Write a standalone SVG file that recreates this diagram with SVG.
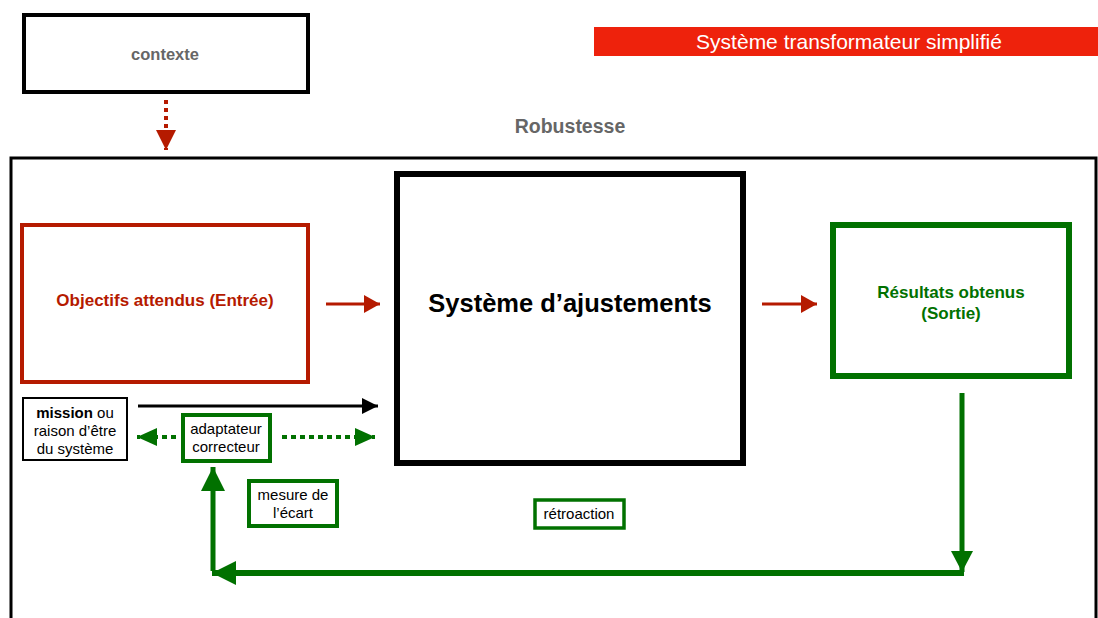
<svg xmlns="http://www.w3.org/2000/svg" width="1098" height="618" viewBox="0 0 1098 618">
<style>
text{font-family:"Liberation Sans",Arial,sans-serif;text-anchor:middle}
.b{font-weight:bold}
.gray{fill:#666666}
.red{fill:#B51A00}
.grn{fill:#017100}
.box{fill:#fff}
.sm{font-size:15px}
</style>
<defs>
<marker id="ahRed" markerUnits="userSpaceOnUse" markerWidth="16" markerHeight="18" refX="16" refY="9" orient="auto"><path d="M0,0 L16,9 L0,18 z" fill="#B51A00"/></marker>
<marker id="ahRedL" markerUnits="userSpaceOnUse" markerWidth="20" markerHeight="20" refX="20" refY="10" orient="auto"><path d="M0,0 L20,10 L0,20 z" fill="#B51A00"/></marker>
<marker id="ahBlk" markerUnits="userSpaceOnUse" markerWidth="16" markerHeight="16" refX="16" refY="8" orient="auto"><path d="M0,0 L16,8 L0,16 z" fill="#000"/></marker>
<marker id="ahGrnS" markerUnits="userSpaceOnUse" markerWidth="20" markerHeight="18" refX="20" refY="9" orient="auto"><path d="M0,0 L20,9 L0,18 z" fill="#017100"/></marker>
<marker id="ahGrn" markerUnits="userSpaceOnUse" markerWidth="24" markerHeight="24" refX="24" refY="12" orient="auto"><path d="M0,0 L24,12 L0,24 z" fill="#017100"/></marker>
<marker id="ahGrnM" markerUnits="userSpaceOnUse" markerWidth="21" markerHeight="22" refX="21" refY="11" orient="auto"><path d="M0,0 L21,11 L0,22 z" fill="#017100"/></marker>
</defs>

<g id="titre">
<rect x="594" y="27" width="504" height="29" fill="#EE220C"/>
<text x="849" y="49" font-size="21" fill="#fff">Système transformateur simplifié</text>
</g>

<g id="robustesse">
<rect x="11" y="158" width="1085" height="470" fill="none" stroke="#000" stroke-width="3"/>
<text x="570" y="133" font-size="19.5" class="b gray">Robustesse</text>
</g>

<g id="contexte">
<rect x="24" y="15" width="284" height="77" class="box" stroke="#000" stroke-width="4"/>
<text x="165" y="60" font-size="16.5" class="b gray">contexte</text>
</g>

<g id="objectifs">
<rect x="22" y="225" width="286" height="157" class="box" stroke="#B51A00" stroke-width="4"/>
<text x="165" y="306" font-size="17" class="b red">Objectifs attendus (Entrée)</text>
</g>

<g id="systeme">
<rect x="397" y="174" width="346" height="289" class="box" stroke="#000" stroke-width="6"/>
<text x="570" y="312" font-size="25.5" class="b">Système d’ajustements</text>
</g>

<g id="resultats">
<rect x="833" y="225" width="236" height="151" class="box" stroke="#017100" stroke-width="6"/>
<text x="951" y="298" font-size="17" class="b grn">Résultats obtenus</text>
<text x="951" y="319" font-size="17" class="b grn">(Sortie)</text>
</g>

<g id="mission">
<rect x="23" y="398" width="104" height="62" class="box" stroke="#000" stroke-width="2"/>
<text x="75" y="418" class="sm"><tspan class="b">mission</tspan> ou</text>
<text x="75" y="436" class="sm">raison d’être</text>
<text x="75" y="454" class="sm">du système</text>
</g>

<g id="adaptateur">
<rect x="183" y="415" width="87" height="46" class="box" stroke="#017100" stroke-width="4"/>
<text x="226" y="434" class="sm">adaptateur</text>
<text x="226" y="452" class="sm">correcteur</text>
</g>

<g id="mesure">
<rect x="249" y="481" width="88" height="45" class="box" stroke="#017100" stroke-width="4"/>
<text x="293" y="500" class="sm">mesure de</text>
<text x="293" y="518" class="sm">l’écart</text>
</g>

<g id="retroaction">
<rect x="535" y="500" width="89" height="28" class="box" stroke="#017100" stroke-width="3.5"/>
<text x="579" y="519" class="sm">rétroaction</text>
</g>

<g id="connecteurs" fill="none">
<line x1="166" y1="100" x2="166" y2="150" stroke="#B51A00" stroke-width="4" stroke-dasharray="4 4" marker-end="url(#ahRedL)"/>
<line x1="326" y1="304" x2="380" y2="304" stroke="#B51A00" stroke-width="3" marker-end="url(#ahRed)"/>
<line x1="762" y1="304" x2="817" y2="304" stroke="#B51A00" stroke-width="3" marker-end="url(#ahRed)"/>
<line x1="138" y1="406" x2="378" y2="406" stroke="#000" stroke-width="3" marker-end="url(#ahBlk)"/>
<line x1="176" y1="437" x2="137" y2="437" stroke="#017100" stroke-width="4" stroke-dasharray="5 4" marker-end="url(#ahGrnS)"/>
<line x1="282" y1="437" x2="375" y2="437" stroke="#017100" stroke-width="4" stroke-dasharray="5 4" marker-end="url(#ahGrnS)"/>
<line x1="962" y1="393" x2="962" y2="572" stroke="#017100" stroke-width="5" marker-end="url(#ahGrnM)"/>
<line x1="964" y1="573" x2="212" y2="573" stroke="#017100" stroke-width="6" marker-end="url(#ahGrn)"/>
<line x1="213" y1="571" x2="213" y2="467" stroke="#017100" stroke-width="5" marker-end="url(#ahGrn)"/>
</g>
</svg>
